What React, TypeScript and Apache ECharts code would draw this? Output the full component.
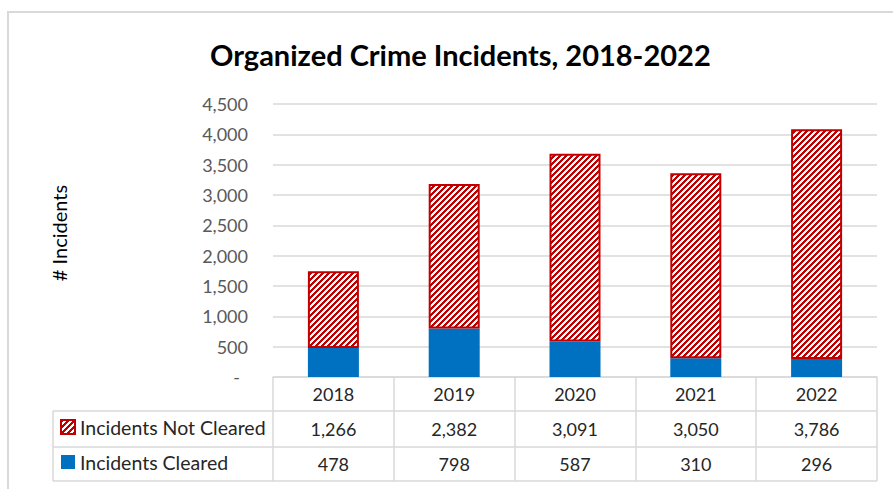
import React, { useEffect, useRef } from "react";
import * as echarts from "echarts";

const years = ["2018", "2019", "2020", "2021", "2022"];
const notCleared = [1266, 2382, 3091, 3050, 3786];
const cleared = [478, 798, 587, 310, 296];
const seriesNames = ["Incidents Not Cleared", "Incidents Cleared"];
const titleText = "Organized Crime Incidents, 2018-2022";
const yAxisTitle = "# Incidents";
const yMin = 0;
const yMax = 4500;
const yStep = 500;

const FONT = "Lato, 'Open Sans', sans-serif";
const RED = "#C00000";
const BLUE = "#0070C0";
const GRID = "#d9d9d9";
const TEXT = "#262626";

const fmt = (v: number) => v.toLocaleString("en-US");

function makeHatch(): HTMLCanvasElement {
  const s = 6;
  const c = document.createElement("canvas");
  c.width = s;
  c.height = s;
  const ctx = c.getContext("2d")!;
  ctx.fillStyle = "#ffffff";
  ctx.fillRect(0, 0, s, s);
  ctx.fillStyle = RED;
  for (let x = 0; x < s; x++) {
    for (let y = 0; y < s; y++) {
      if ((x + y) % s < 3) ctx.fillRect(x, y, 1, 1);
    }
  }
  return c;
}

export default function App() {
  const ref = useRef<HTMLDivElement>(null);

  useEffect(() => {
    if (!ref.current) return;
    const chart = echarts.init(ref.current, null, { renderer: "svg" });
    const hatch = { image: makeHatch(), repeat: "repeat" } as any;

    const gridLeft = 273;
    const gridRight = 877;
    const axisY = 377;
    const row1 = 411;
    const row2 = 447;
    const row3 = 481;
    const tableLeft = 53;

    const option: any = {
      animation: false,
      backgroundColor: "#ffffff",
      title: {
        text: titleText,
        left: 205,
        top: 35,
        textStyle: { fontFamily: FONT, fontSize: 29, fontWeight: "bold", color: "#000000" },
      },
      grid: { left: gridLeft, right: 893 - gridRight, top: 104, bottom: 489 - axisY },
      legend: {
        data: seriesNames,
        orient: "vertical",
        left: 60,
        top: 417,
        padding: 0,
        itemWidth: 14,
        itemHeight: 14,
        itemGap: 15,
        icon: "rect",
        selectedMode: false,
        textStyle: { fontFamily: FONT, fontSize: 19.5, color: TEXT },
      },
      xAxis: {
        type: "category",
        data: years,
        axisLine: { show: true, lineStyle: { color: GRID, width: 1.5 } },
        axisTick: { show: true, interval: 0, length: row3 - axisY, lineStyle: { color: GRID, width: 1.5 } },
        axisLabel: {
          interval: 0,
          margin: 0,
          formatter: (value: string, idx: number) =>
            `{h|${value}}\n{a|${fmt(notCleared[idx])}}\n{b|${fmt(cleared[idx])}}`,
          rich: {
            h: { fontFamily: FONT, fontSize: 18, color: TEXT, lineHeight: row1 - axisY },
            a: { fontFamily: FONT, fontSize: 18, color: TEXT, lineHeight: row2 - row1 },
            b: { fontFamily: FONT, fontSize: 18, color: TEXT, lineHeight: row3 - row2 },
          },
        },
      },
      yAxis: {
        type: "value",
        min: yMin,
        max: yMax,
        interval: yStep,
        axisLine: { show: false },
        axisTick: { show: false },
        splitLine: { lineStyle: { color: GRID, width: 1.5 } },
        axisLabel: {
          margin: 25,
          fontFamily: FONT,
          fontSize: 18,
          color: "#595959",
          formatter: (v: number) => (v === 0 ? "{z|-}" : fmt(v)),
          rich: { z: { fontFamily: FONT, fontSize: 18, color: "#595959", padding: [0, 8, 0, 0] } },
        },
      },
      series: [
        {
          name: seriesNames[1],
          type: "bar",
          stack: "total",
          barWidth: 51,
          data: cleared,
          itemStyle: { color: BLUE },
        },
        {
          name: seriesNames[0],
          type: "bar",
          stack: "total",
          barWidth: 51,
          data: notCleared,
          itemStyle: { color: hatch, borderColor: RED, borderWidth: 2 },
        },
      ],
      graphic: [
        {
          type: "rect",
          silent: true,
          z: -10,
          shape: { x: 8, y: 12, width: 1000, height: 700 },
          style: { fill: "none", stroke: GRID, lineWidth: 2 },
        },
        {
          type: "line",
          silent: true,
          shape: { x1: tableLeft, y1: row1, x2: gridRight, y2: row1 },
          style: { stroke: GRID, lineWidth: 1.5 },
        },
        {
          type: "line",
          silent: true,
          shape: { x1: tableLeft, y1: row2, x2: gridRight, y2: row2 },
          style: { stroke: GRID, lineWidth: 1.5 },
        },
        {
          type: "line",
          silent: true,
          shape: { x1: tableLeft, y1: row3, x2: gridRight, y2: row3 },
          style: { stroke: GRID, lineWidth: 1.5 },
        },
        {
          type: "line",
          silent: true,
          shape: { x1: tableLeft, y1: row1, x2: tableLeft, y2: row3 },
          style: { stroke: GRID, lineWidth: 1.5 },
        },
        {
          type: "text",
          x: 59,
          y: 233,
          rotation: Math.PI / 2,
          style: {
            text: yAxisTitle,
            fontFamily: FONT,
            fontSize: 20,
            fill: "#000000",
            align: "center",
            verticalAlign: "middle",
          },
        },
      ],
    };

    chart.setOption(option);
    return () => chart.dispose();
  }, []);

  return (
    <div
      ref={ref}
      style={{ position: "fixed", left: 0, top: 0, width: 893, height: 489 }}
    />
  );
}
